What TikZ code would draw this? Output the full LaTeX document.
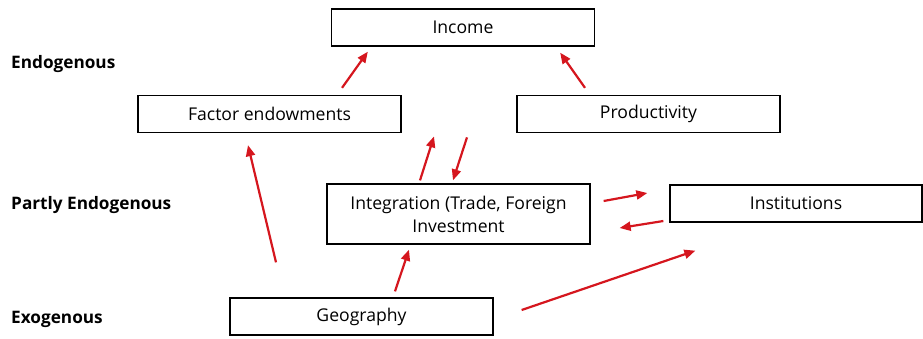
\documentclass[tikz,border=0pt]{standalone}
\usepackage{fontspec}
\setmainfont{Open Sans}
\usetikzlibrary{arrows.meta,calc}
\definecolor{linkred}{RGB}{213,22,30}

\begin{document}
\begin{tikzpicture}[x=1pt,y=-1pt,
  box/.style={draw,line width=1.3pt,minimum width=263pt,minimum height=37pt,inner sep=2pt,align=center,font=\fontsize{17.6}{23}\selectfont},%plain boxes
  lvl/.style={anchor=base west,inner sep=0pt,font=\fontsize{17.2}{20}\selectfont\bfseries},%row titles
  link/.style={draw=linkred,line width=2.2pt,-{Triangle[length=11pt,width=9pt]}}
  ]
\useasboundingbox (0,0) rectangle (923,338);
% boxes
\node[box] (inc) at (463,27.5) {Income};
\node[box] (fac) at (269.5,114) {Factor endowments};
\node[box] (prod) at (648.5,114) {Productivity};
\node[box,minimum height=60pt] (int) at (458.5,214) {Integration (Trade, Foreign\\Investment};
\node[box,minimum width=252pt] (ins) at (796,203.5) {Institutions};
\node[box] (geo) at (361.5,316.5) {Geography};
% row titles
\node[lvl] (endo) at (11,68.5) {Endogenous};
\node[lvl] (part) at (11,209.5) {Partly Endogenous};
\node[lvl] (exo) at (11,323.5) {Exogenous};
% links
\draw[link] ($(fac.north)+(72.5,-7)$) -- ($(inc.south west)+(37,5)$);
\draw[link] ($(prod.north)+(-63.5,-7)$) -- ($(inc.south east)+(-35,6)$);
\draw[link] ($(int.north)+(-38.5,-3)$) -- ($(int.north)+(-24.5,-47)$);
\draw[link] ($(int.north)+(8.5,-46)$) -- ($(int.north)+(-5.5,-3)$);
\draw[link] ($(int.east)+(13,-13)$) -- ($(ins.west)+(-22,-10.5)$);
\draw[link] ($(ins.west)+(-6,17.5)$) -- ($(int.east)+(29,14)$);
\draw[link] ($(geo.north)+(-85.5,-35)$) -- ($(fac.south)+(-21.5,12)$);
\draw[link] ($(geo.north)+(33.5,-6)$) -- ($(int.south)+(-49.5,5)$);
\draw[link] ($(geo.east)+(28,-6.5)$) -- ($(ins.south west)+(26,28)$);
\end{tikzpicture}
\end{document}
